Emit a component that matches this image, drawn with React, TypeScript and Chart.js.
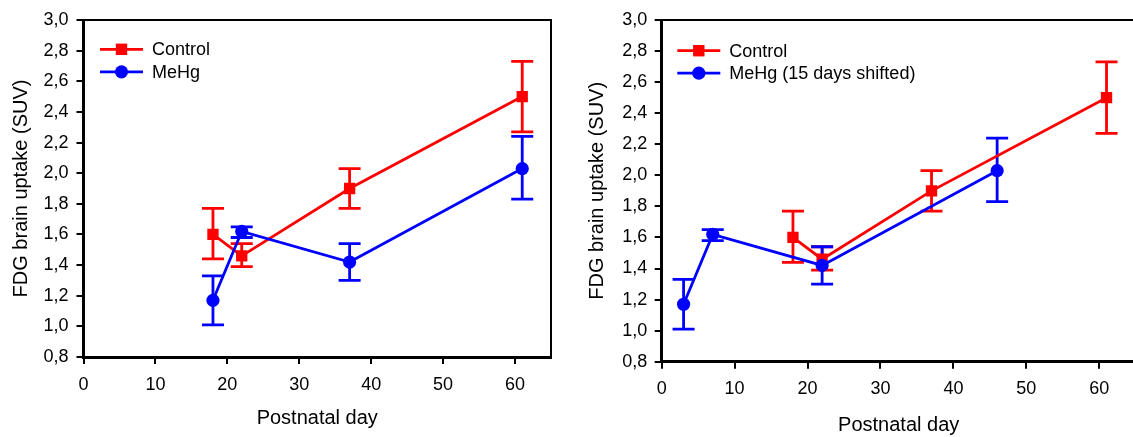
import React, { useEffect, useRef } from "react";
import { Chart, registerables } from "chart.js";

Chart.register(...registerables);

// ---------- data ----------
const controlDays = [18, 22, 37, 61];
const controlMean = [1.6, 1.46, 1.9, 2.5];
const controlLow = [1.44, 1.39, 1.77, 2.27];
const controlHigh = [1.77, 1.54, 2.03, 2.73];

const mehgDays = [18, 22, 37, 61];
const mehgShiftedDays = [3, 7, 22, 46];
const mehgMean = [1.17, 1.62, 1.42, 2.03];
const mehgLow = [1.01, 1.58, 1.3, 1.83];
const mehgHigh = [1.33, 1.65, 1.54, 2.24];

const yTickValues = [0.8, 1.0, 1.2, 1.4, 1.6, 1.8, 2.0, 2.2, 2.4, 2.6, 2.8, 3.0];
const yTickLabels = ["0,8", "1,0", "1,2", "1,4", "1,6", "1,8", "2,0", "2,2", "2,4", "2,6", "2,8", "3,0"];
const xTickValues = [0, 10, 20, 30, 40, 50, 60];
const xTickLabels = ["0", "10", "20", "30", "40", "50", "60"];

const RED = "#ff0000";
const BLUE = "#0000ff";
const FONT = 'Arial, "Liberation Sans", Helvetica, sans-serif';
const LW = 2.8;

type Layout = {
  canvasLeft: number;
  canvasWidth: number;
  areaLeft: number;
  areaRight: number;
  areaTop: number;
  areaBottom: number;
  yTitlePad: number;
  xTitlePadBottom: number;
  yTickPad: number;
  xTickPad: number;
  legendDx: number;
  legendDy: number;
};

const framePlugin = {
  id: "frame",
  afterDraw(chart: any) {
    const { ctx, chartArea } = chart;
    ctx.save();
    ctx.strokeStyle = "#000";
    ctx.lineWidth = 2;
    ctx.beginPath();
    ctx.moveTo(chartArea.left, chartArea.top);
    ctx.lineTo(chartArea.right, chartArea.top);
    ctx.lineTo(chartArea.right, chartArea.bottom);
    ctx.stroke();
    ctx.restore();
  },
};

const errorBarPlugin = {
  id: "errorBars",
  beforeDatasetsDraw(chart: any) {
    const { ctx } = chart;
    const xs = chart.scales.x;
    const ys = chart.scales.y;
    ctx.save();
    chart.data.datasets.forEach((ds: any) => {
      ctx.strokeStyle = ds.borderColor;
      ctx.lineWidth = LW;
      ds.data.forEach((p: any, i: number) => {
        const x = xs.getPixelForValue(p.x);
        const yl = ys.getPixelForValue(ds.errLow[i]);
        const yh = ys.getPixelForValue(ds.errHigh[i]);
        ctx.beginPath();
        ctx.moveTo(x, yl);
        ctx.lineTo(x, yh);
        ctx.moveTo(x - 11, yl);
        ctx.lineTo(x + 11, yl);
        ctx.moveTo(x - 11, yh);
        ctx.lineTo(x + 11, yh);
        ctx.stroke();
      });
    });
    ctx.restore();
  },
};

const legendPlugin = {
  id: "insideLegend",
  afterDraw(chart: any, _args: any, opts: any) {
    const { ctx, chartArea } = chart;
    const x0 = chartArea.left + opts.dx;
    let y = chartArea.top + opts.dy;
    ctx.save();
    chart.data.datasets.forEach((ds: any) => {
      ctx.strokeStyle = ds.borderColor;
      ctx.fillStyle = ds.borderColor;
      ctx.lineWidth = LW;
      ctx.beginPath();
      ctx.moveTo(x0, y);
      ctx.lineTo(x0 + 43, y);
      ctx.stroke();
      const cx = x0 + 21.5;
      if (ds.pointStyle === "rect") {
        ctx.fillRect(cx - 5.7, y - 5.7, 11.4, 11.4);
      } else {
        ctx.beginPath();
        ctx.arc(cx, y, 6.6, 0, Math.PI * 2);
        ctx.fill();
      }
      ctx.fillStyle = "#000";
      ctx.font = `18px ${FONT}`;
      ctx.textBaseline = "middle";
      ctx.textAlign = "left";
      ctx.fillText(ds.label, x0 + 52, y + 1);
      y += 22.5;
    });
    ctx.restore();
  },
};

function makeConfig(L: Layout, mehgX: number[], mehgLabel: string): any {
  const height = 437;
  return {
    type: "line",
    data: {
      datasets: [
        {
          label: "Control",
          data: controlDays.map((d, i) => ({ x: d, y: controlMean[i] })),
          errLow: controlLow,
          errHigh: controlHigh,
          borderColor: RED,
          backgroundColor: RED,
          borderWidth: LW,
          pointStyle: "rect",
          pointRadius: 8,
          pointBorderWidth: 0,
          tension: 0,
          order: 1,
        },
        {
          label: mehgLabel,
          data: mehgX.map((d, i) => ({ x: d, y: mehgMean[i] })),
          errLow: mehgLow,
          errHigh: mehgHigh,
          borderColor: BLUE,
          backgroundColor: BLUE,
          borderWidth: LW,
          pointStyle: "circle",
          pointRadius: 6.6,
          pointBorderWidth: 0,
          tension: 0,
          order: 0,
        },
      ],
    },
    options: {
      responsive: false,
      animation: false,
      events: [],
      layout: {
        padding: { top: L.areaTop, right: L.canvasWidth - L.areaRight, left: 0, bottom: 0 },
      },
      plugins: {
        legend: { display: false },
        tooltip: { enabled: false },
        insideLegend: { dx: L.legendDx, dy: L.legendDy },
      },
      scales: {
        x: {
          type: "linear",
          min: 0,
          max: 65,
          afterFit(scale: any) {
            scale.height = height - L.areaBottom;
          },
          afterBuildTicks(scale: any) {
            scale.ticks = xTickValues.map((v) => ({ value: v }));
          },
          ticks: {
            includeBounds: false,
            autoSkip: false,
            maxRotation: 0,
            color: "#000",
            padding: L.xTickPad,
            font: { size: 18, family: FONT },
            callback: (_v: any, i: number) => xTickLabels[i],
          },
          grid: {
            display: true,
            drawOnChartArea: false,
            drawTicks: true,
            tickLength: 7,
            color: "#000",
            lineWidth: 2,
          },
          border: { display: true, color: "#000", width: 3 },
          title: {
            display: true,
            text: "Postnatal day",
            color: "#000",
            font: { size: 20, family: FONT },
            padding: { top: 0, bottom: L.xTitlePadBottom },
          },
        },
        y: {
          type: "linear",
          min: 0.8,
          max: 3.0,
          afterFit(scale: any) {
            scale.width = L.areaLeft;
          },
          afterBuildTicks(scale: any) {
            scale.ticks = yTickValues.map((v) => ({ value: v }));
          },
          ticks: {
            autoSkip: false,
            color: "#000",
            padding: L.yTickPad,
            font: { size: 18, family: FONT },
            callback: (_v: any, i: number) => yTickLabels[i],
          },
          grid: {
            display: true,
            drawOnChartArea: false,
            drawTicks: true,
            tickLength: 7,
            color: "#000",
            lineWidth: 2,
          },
          border: { display: true, color: "#000", width: 3 },
          title: {
            display: true,
            text: "FDG brain uptake (SUV)",
            color: "#000",
            font: { size: 20, family: FONT },
            padding: { top: L.yTitlePad, bottom: 0 },
          },
        },
      },
    },
    plugins: [errorBarPlugin, framePlugin, legendPlugin],
  };
}

const leftLayout: Layout = {
  canvasLeft: 0,
  canvasWidth: 566,
  areaLeft: 83.5,
  areaRight: 551,
  areaTop: 20,
  areaBottom: 357,
  yTitlePad: 9,
  xTitlePadBottom: 7,
  yTickPad: 8,
  xTickPad: 10,
  legendDx: 16.5,
  legendDy: 29.3,
};

const rightLayout: Layout = {
  canvasLeft: 570,
  canvasWidth: 580,
  areaLeft: 91.7,
  areaRight: 565.7,
  areaTop: 20,
  areaBottom: 361.7,
  yTitlePad: 15,
  xTitlePadBottom: 0,
  yTickPad: 7.4,
  xTickPad: 10,
  legendDx: 15.6,
  legendDy: 30.7,
};

function Panel({ L, mehgX, mehgLabel }: { L: Layout; mehgX: number[]; mehgLabel: string }) {
  const ref = useRef<HTMLCanvasElement | null>(null);
  useEffect(() => {
    if (!ref.current) return;
    const chart = new Chart(ref.current, makeConfig(L, mehgX, mehgLabel));
    return () => chart.destroy();
  }, []);
  return (
    <canvas
      ref={ref}
      width={L.canvasWidth}
      height={437}
      style={{ position: "absolute", left: L.canvasLeft, top: 0, width: L.canvasWidth, height: 437, display: "block" }}
    />
  );
}

export default function App() {
  return (
    <div
      style={{
        position: "fixed",
        left: 0,
        top: 0,
        width: 1133,
        height: 437,
        overflow: "hidden",
        background: "#fff",
      }}
    >
      <Panel L={leftLayout} mehgX={mehgDays} mehgLabel="MeHg" />
      <Panel L={rightLayout} mehgX={mehgShiftedDays} mehgLabel="MeHg (15 days shifted)" />
    </div>
  );
}
